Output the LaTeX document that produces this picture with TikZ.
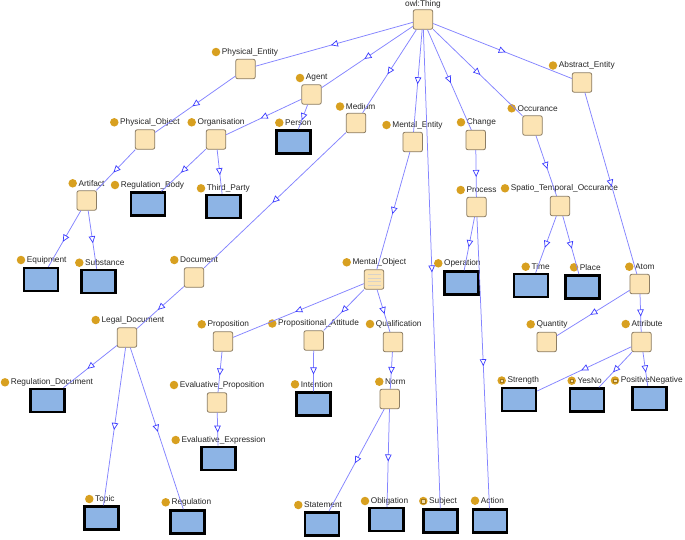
\documentclass[tikz,border=0pt]{standalone}
\usepackage{fontspec}
\setmainfont{Liberation Sans}
\usetikzlibrary{arrows.meta,decorations.markings}
\definecolor{clsfill}{HTML}{FCE4B4}
\definecolor{clsdraw}{HTML}{8C7D64}
\definecolor{indfill}{HTML}{8DB4E5}
\definecolor{edgec}{HTML}{8484FF}
\definecolor{tipc}{HTML}{3C3CFF}
\definecolor{dotc}{HTML}{D8A020}
\definecolor{txt}{HTML}{262626}
\tikzset{
  clsbox/.style={rectangle, rounded corners=2pt, fill=clsfill, draw=clsdraw, line width=0.8pt, minimum size=19.5pt, inner sep=0pt},
  indbox/.style={rectangle, fill=indfill, draw=black, line width=2.5pt, minimum width=34pt, minimum height=23pt, inner sep=0pt},
  dotmark/.style={circle, fill=dotc, minimum size=8.5pt, inner sep=0pt},
  sqmark/.style={rectangle, fill=dotc!35!white, draw=dotc!75!black, line width=0.4pt, minimum size=3.6pt, inner sep=0pt},
  lab/.style={anchor=west, inner sep=0pt, font=\fontsize{8.3}{10}\selectfont, text=txt},
  edge/.style={draw=edgec, line width=0.75pt, postaction={decorate},
    decoration={markings, mark=at position 0.5 with {\arrow[xshift=3.5pt]{Triangle[fill=white, color=tipc, length=7pt, width=6.5pt, line width=0.7pt]}}}}
}
\newcommand\clsnode[4]{\node[clsbox] (#1) at (#2) {}; \node[dotmark] (#1-d) at (#3) {}; \node[lab] (#1-t) at ([xshift=1.2pt]#1-d.east) {#4};}
\newcommand\indnode[4]{\node[indbox] (#1) at (#2) {}; \node[dotmark] (#1-d) at (#3) {}; \node[lab] (#1-t) at ([xshift=1.2pt]#1-d.east) {#4};}
\newcommand\sqindnode[4]{\node[indbox] (#1) at (#2) {}; \node[dotmark] (#1-d) at (#3) {}; \node[sqmark] (#1-s) at (#3) {}; \node[lab] (#1-t) at ([xshift=1.2pt]#1-d.east) {#4};}
\begin{document}
\begin{tikzpicture}[x=1pt,y=-1pt]
\useasboundingbox[fill=white] (0,0) rectangle (685,539);
% root
\node[clsbox] (thing) at (423,19.5) {};
\node[lab, anchor=center] (thing-t) at (423,4.8) {owl:Thing};
% classes
\clsnode{pe}{245.5,69}{216,52}{Physical\_Entity}
\clsnode{agent}{311.5,94.5}{300,78}{Agent}
\clsnode{medium}{356,123}{340,106.5}{Medium}
\clsnode{me}{412.7,142}{386.5,125}{Mental\_Entity}
\clsnode{change}{475.7,140}{461,122.3}{Change}
\clsnode{occ}{532.5,125.5}{511.7,108.3}{Occurance}
\clsnode{ae}{582,82.5}{553,65.5}{Abstract\_Entity}
\clsnode{po}{145,139.5}{114.3,122.3}{Physical\_Object}
\clsnode{org}{216,139.5}{191.7,122.3}{Organisation}
\clsnode{artifact}{86.7,200.5}{72.7,183.3}{Artifact}
\clsnode{doc}{194,277.5}{174.3,260}{Document}
\clsnode{mo}{374,279.5}{346.7,262.3}{Mental\_Object}
\clsnode{process}{476.5,207}{460.7,190}{Process}
\clsnode{sto}{560,206}{505,188.3}{Spatio\_Temporal\_Occurance}
\clsnode{atom}{639.7,284}{629.3,266.7}{Atom}
\clsnode{legal}{127,337.5}{95.7,320}{Legal\_Document}
\clsnode{prop}{223,341.5}{201.7,324.3}{Proposition}
\clsnode{pa}{313.7,340.5}{272.3,323.5}{Propositional\_Attitude}
\clsnode{qual}{393,342}{370,324}{Qualification}
\clsnode{evprop}{217,402.5}{174,385}{Evaluative\_Proposition}
\clsnode{norm}{389.7,399}{379.3,381.7}{Norm}
\clsnode{quantity}{546.7,342}{530.7,324.3}{Quantity}
\clsnode{attribute}{641.5,342}{625.7,324}{Attribute}
% list icon inside Mental_Object
\foreach \dy in {5,1.5,-2,-5.5}
  \draw[clsdraw!35, line width=0.4pt] ([xshift=-6.5pt,yshift=\dy pt]mo.center) -- ([xshift=6.5pt,yshift=\dy pt]mo.center);
% individuals
\indnode{person}{293.5,142}{279.3,122.7}{Person}
\indnode{regbody}{148,204}{115,185}{Regulation\_Body}
\indnode{third}{223.5,206.5}{201,188.3}{Third\_Party}
\indnode{equip}{41,279.5}{21,260}{Equipment}
\indnode{subst}{98.5,281.5}{79.3,262.7}{Substance}
\indnode{operation}{461.7,283}{438.3,263.3}{Operation}
\indnode{time}{531,285.5}{525.7,266.7}{Time}
\indnode{place}{582.5,287}{574,267.3}{Place}
\indnode{regdoc}{47.3,400.5}{5,382.3}{Regulation\_Document}
\indnode{intention}{313.3,404}{295,384.3}{Intention}
\indnode{evexp}{218.3,458.3}{175.7,440}{Evaluative\_Expression}
\indnode{topic}{101.7,518}{89.3,499}{Topic}
\indnode{regulation}{187.5,522}{165.7,502.3}{Regulation}
\indnode{statement}{322,524}{298.3,505}{Statement}
\indnode{obligation}{386.7,519.5}{365,501}{Obligation}
\indnode{action}{490,521}{475,500.7}{Action}
\sqindnode{subject}{440.7,521}{423.3,501}{Subject}
\sqindnode{strength}{519,399.5}{501.7,380.5}{Strength}
\sqindnode{yesno}{587,400}{571.7,380.7}{YesNo}
\sqindnode{posneg}{649.5,398.5}{615,380.5}{PositiveNegative}
% edges
\foreach \a/\b in {thing/pe, thing/agent, thing/medium, thing/me, thing/subject, thing/change, thing/occ, thing/ae,
  pe/po, po/artifact, artifact/equip, artifact/subst,
  agent/org, agent/person, org/regbody, org/third,
  medium/doc, doc/legal, legal/regdoc, legal/topic, legal/regulation,
  me/mo, mo/prop, mo/pa, mo/qual, prop/evprop, evprop/evexp, pa/intention,
  qual/norm, norm/statement, norm/obligation,
  change/process, process/operation, process/action,
  occ/sto, sto/time, sto/place,
  ae/atom, atom/quantity, atom/attribute,
  attribute/strength, attribute/yesno, attribute/posneg}
  \path[edge] (\a) -- (\b);
\end{tikzpicture}
\end{document}
